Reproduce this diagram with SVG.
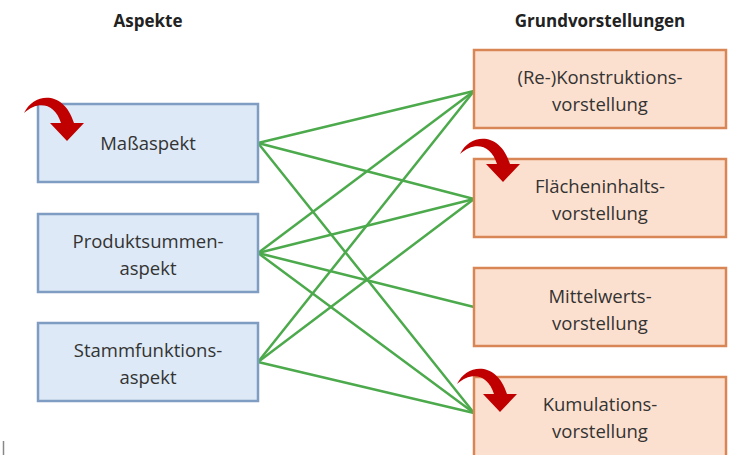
<svg xmlns="http://www.w3.org/2000/svg" width="736" height="455" viewBox="0 0 736 455">
<defs>
<style>
.t{font-family:"Open Sans","Liberation Sans",sans-serif;font-size:18.5px;fill:#333;text-anchor:middle}
.h{font-family:"Open Sans","Liberation Sans",sans-serif;font-size:17px;font-weight:bold;fill:#222;text-anchor:middle}
.a{fill:#dde9f6;stroke:#7f9cc2;stroke-width:2.5}
.g{fill:#fce0cf;stroke:#d98656;stroke-width:2.5}
.c line{stroke:#4caa4c;stroke-width:2.5;stroke-linecap:round}
.r{fill:#c00000}
</style>
<path id="arr" d="M24 113 C34 92 64 90 74 123 L84 123 L67 141 L50 123 L61 123 C55 103 38 100 24 113 Z"/>
</defs>
<rect width="736" height="455" fill="#fff"/>
<text class="h" x="148" y="27">Aspekte</text>
<text class="h" x="600" y="27">Grundvorstellungen</text>
<g class="c" id="connectors">
<line x1="258" y1="143" x2="474" y2="91"/>
<line x1="258" y1="143" x2="474" y2="199"/>
<line x1="258" y1="143" x2="474" y2="413"/>
<line x1="258" y1="253" x2="474" y2="91"/>
<line x1="258" y1="253" x2="474" y2="199"/>
<line x1="258" y1="253" x2="474" y2="307"/>
<line x1="258" y1="253" x2="474" y2="413"/>
<line x1="258" y1="362" x2="474" y2="91"/>
<line x1="258" y1="362" x2="474" y2="199"/>
<line x1="258" y1="362" x2="474" y2="413"/>
</g>
<g id="mass"><rect class="a" x="38" y="104" width="220" height="78"/><text class="t" x="148" y="150">Maßaspekt</text></g>
<g id="produkt"><rect class="a" x="38" y="214" width="220" height="78"/><text class="t" x="148" y="248">Produktsummen-</text><text class="t" x="148" y="275">aspekt</text></g>
<g id="stamm"><rect class="a" x="38" y="323" width="220" height="78"/><text class="t" x="148" y="357">Stammfunktions-</text><text class="t" x="148" y="384">aspekt</text></g>
<g id="konstr"><rect class="g" x="474" y="50" width="252" height="78"/><text class="t" x="600" y="84">(Re-)Konstruktions-</text><text class="t" x="600" y="111">vorstellung</text></g>
<g id="flaeche"><rect class="g" x="474" y="159" width="252" height="78"/><text class="t" x="600" y="193">Flächeninhalts-</text><text class="t" x="600" y="220">vorstellung</text></g>
<g id="mittel"><rect class="g" x="474" y="268" width="252" height="78"/><text class="t" x="600" y="303">Mittelwerts-</text><text class="t" x="600" y="330">vorstellung</text></g>
<g id="kumul"><rect class="g" x="474" y="377" width="252" height="80"/><text class="t" x="600" y="411">Kumulations-</text><text class="t" x="600" y="438">vorstellung</text></g>
<use href="#arr" class="r"/>
<use href="#arr" class="r" transform="translate(436 41)"/>
<use href="#arr" class="r" transform="translate(433 271)"/>
<line x1="3.5" y1="441" x2="3.5" y2="455" stroke="#888" stroke-width="1.5"/>
</svg>
